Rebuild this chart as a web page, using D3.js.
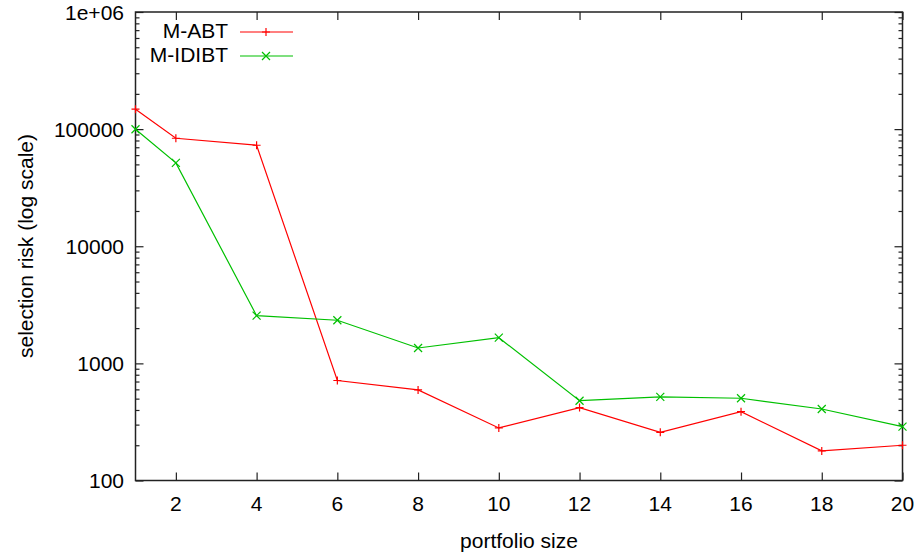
<html>
  <head>
    <meta charset="utf-8">
    <title>selection risk vs portfolio size</title>
    <style>
      body {
          margin: 0;
          background: #fff;
      }
      svg {
          font-family: "Liberation Sans", Arial, sans-serif;
          font-size: 21px;
      }
      .frame {
          fill: none;
          stroke: #222;
          stroke-width: 1.5;
      }
      .tick line {
          stroke: #222;
          stroke-width: 1.2;
      }
      .series {
          fill: none;
          stroke-width: 1.2;
      }
    </style>
  </head>
  <body>
    <script src="https://cdn.jsdelivr.net/npm/d3@7"></script>
    <svg id="chart" width=921 height=557></svg>
    <script type="text/javascript">
// values
var portfolioSize = [1, 2, 4, 6, 8, 10, 12, 14, 16, 18, 20];
var mABT   = [148000, 83600, 72800, 714, 593, 281, 419, 258, 387, 179, 200];
var mIDIBT = [99800, 51500, 2555, 2335, 1353, 1657, 480, 517, 504, 408, 288];
var xTicks = [2, 4, 6, 8, 10, 12, 14, 16, 18, 20];
var yTicks = [100, 1000, 10000, 100000, 1000000];
var yTickLabels = ["100", "1000", "10000", "100000", "1e+06"];

var series = [
  { name: "M-ABT", values: mABT, colour: "#ff0000", marker: "plus" },
  { name: "M-IDIBT", values: mIDIBT, colour: "#00c000", marker: "cross" }
];

// plot box (window.top is taken, so no "top" here)
var plotL = 135.5, plotR = 902.5, plotT = 12, plotB = 480.5;

var svg = d3.select("#chart");

var x = d3.scaleLinear().domain([1, 20]).range([plotL, plotR]);
var y = d3.scaleLog().domain([100, 1e6]).range([plotB, plotT]);

// minor log ticks 2..9 in each decade
var yMinor = [];
for (var d = 100; d < 1e6; d *= 10)
  for (var k = 2; k < 10; k++) yMinor.push(d * k);

// gnuplot mirrors ticks on all four sides
function tickSide(axis, tvals, size) {
  return axis.tickValues(tvals).tickSizeInner(size).tickSizeOuter(0).tickFormat(() => "");
}

svg.append("g").attr("transform", "translate(0," + plotB + ")")
    .call(tickSide(d3.axisTop(x), xTicks, 8));
svg.append("g").attr("transform", "translate(0," + plotT + ")")
    .call(tickSide(d3.axisBottom(x), xTicks, 8));
svg.append("g").attr("transform", "translate(" + plotL + ",0)")
    .call(tickSide(d3.axisRight(y), yTicks, 8));
svg.append("g").attr("transform", "translate(" + plotR + ",0)")
    .call(tickSide(d3.axisLeft(y), yTicks, 8));
svg.append("g").attr("transform", "translate(" + plotL + ",0)")
    .call(tickSide(d3.axisRight(y), yMinor, 4));
svg.append("g").attr("transform", "translate(" + plotR + ",0)")
    .call(tickSide(d3.axisLeft(y), yMinor, 4));
svg.selectAll(".domain").remove();

// tick labels
svg.append("g").selectAll("text")
    .data(xTicks)
  .enter().append("text")
    .attr("x", d => x(d))
    .attr("y", 511)
    .attr("text-anchor", "middle")
    .text(d => d);

svg.append("g").selectAll("text")
    .data(yTicks)
  .enter().append("text")
    .attr("x", 124)
    .attr("y", d => y(d))
    .attr("dy", "0.36em")
    .attr("text-anchor", "end")
    .text((d, i) => yTickLabels[i]);

svg.append("rect")
    .attr("class", "frame")
    .attr("x", plotL).attr("y", plotT)
    .attr("width", plotR - plotL).attr("height", plotB - plotT);

// axis titles
svg.append("text")
    .attr("x", 519).attr("y", 548)
    .attr("text-anchor", "middle")
    .text("portfolio size");
svg.append("text")
    .attr("transform", "translate(33,246) rotate(-90)")
    .attr("text-anchor", "middle")
    .text("selection risk (log scale)");

function marker(sel, type, colour) {
  var p = type === "plus" ? "M-4,0H4M0,-4V4" : "M-4,-4L4,4M-4,4L4,-4";
  sel.append("path").attr("d", p)
     .attr("stroke", colour).attr("stroke-width", 1.2).attr("fill", "none");
}

var line = d3.line()
    .x((d, i) => x(portfolioSize[i]))
    .y(d => y(d));

series.forEach((s, si) => {
  svg.append("path")
      .attr("class", "series")
      .attr("stroke", s.colour)
      .attr("d", line(s.values));
  s.values.forEach((v, i) => {
    var g = svg.append("g")
        .attr("transform", "translate(" + x(portfolioSize[i]) + "," + y(v) + ")");
    marker(g, s.marker, s.colour);
  });

  // legend
  var ly = 32 + si * 24;
  svg.append("text")
      .attr("x", 228).attr("y", ly)
      .attr("dy", "0.3em")
      .attr("text-anchor", "end")
      .text(s.name);
  svg.append("line")
      .attr("x1", 240).attr("x2", 293)
      .attr("y1", ly).attr("y2", ly)
      .attr("stroke", s.colour).attr("stroke-width", 1.2);
  marker(svg.append("g").attr("transform", "translate(266," + ly + ")"), s.marker, s.colour);
});
    </script>
  </body>
</html>
